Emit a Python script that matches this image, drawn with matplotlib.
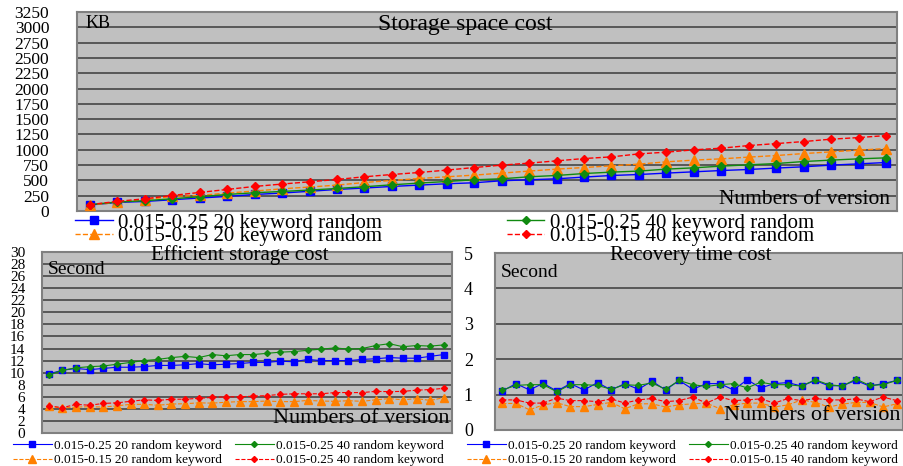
import numpy as np
import matplotlib
matplotlib.use('Agg')
import matplotlib.pyplot as plt

plt.rcParams['font.family'] = ['Liberation Serif', 'DejaVu Serif']

# Storage space cost (KB), 30 versions
storage_blue = [98, 140, 156, 184, 212, 238, 270, 293, 322, 352, 375, 401, 423, 445, 461,
                494, 510, 526, 554, 580, 596, 619, 640, 661, 678, 701, 722, 749, 770, 792]
storage_green = [105, 147, 168, 200, 233, 270, 298, 319, 342, 368, 396, 428, 456, 482, 510,
                 526, 559, 580, 612, 635, 652, 684, 705, 733, 754, 775, 808, 831, 852, 868]
storage_orange = [95, 140, 184, 238, 254, 293, 326, 363, 391, 423, 466, 499, 531, 559, 586,
                  619, 652, 684, 710, 738, 766, 803, 831, 852, 880, 906, 938, 966, 994, 1020]
storage_red = [105, 157, 200, 254, 303, 352, 401, 440, 477, 515, 559, 596, 629, 668, 710,
               749, 782, 819, 857, 884, 933, 961, 999, 1026, 1069, 1101, 1134, 1173, 1199, 1232]
storage_labels = ['0.015-0.25 20 keyword random', '0.015-0.15 20 keyword random',
                  '0.015-0.25 40 keyword random', '0.015-0.15 40 keyword random']

# Efficient storage cost (second)
eff_blue = [9.8, 10.4, 10.7, 10.5, 10.7, 10.9, 10.9, 11.0, 11.2, 11.2, 11.3, 11.5, 11.3, 11.4, 11.5,
            11.7, 11.7, 11.9, 11.8, 12.2, 12.0, 12.0, 12.0, 12.2, 12.3, 12.5, 12.4, 12.4, 12.7, 13.0]
eff_green = [9.6, 10.4, 10.8, 11.0, 11.1, 11.4, 11.7, 12.0, 12.2, 12.5, 12.7, 12.5, 13.0, 12.8, 13.0,
             13.0, 13.2, 13.4, 13.5, 13.7, 13.9, 14.1, 13.9, 14.0, 14.5, 14.8, 14.3, 14.5, 14.4, 14.6]
eff_orange = [4.4, 4.15, 4.3, 4.35, 4.3, 4.5, 4.75, 4.75, 4.6, 4.8, 4.85, 5.0, 4.95, 5.1, 5.2,
              5.2, 5.3, 5.2, 5.2, 5.4, 5.3, 5.25, 5.35, 5.25, 5.5, 5.7, 5.5, 5.7, 5.4, 5.85]
eff_red = [4.5, 4.2, 4.75, 4.6, 4.9, 5.0, 5.25, 5.5, 5.4, 5.6, 5.6, 5.75, 5.9, 6.0, 6.0,
           6.1, 6.2, 6.4, 6.5, 6.5, 6.5, 6.7, 6.7, 6.7, 6.9, 6.85, 6.9, 7.1, 7.2, 7.4]
eff_labels = ['0.015-0.25 20 random keyword', '0.015-0.15 20 random keyword',
              '0.015-0.25 40 random keyword', '0.015-0.25 40 random keyword']

# Recovery time cost (second)
rec_blue = [1.10, 1.31, 1.13, 1.32, 1.10, 1.31, 1.13, 1.34, 1.13, 1.31, 1.15, 1.38, 1.13, 1.40, 1.15,
            1.31, 1.31, 1.13, 1.42, 1.19, 1.31, 1.34, 1.24, 1.40, 1.25, 1.25, 1.40, 1.24, 1.31, 1.40]
rec_green = [1.13, 1.26, 1.28, 1.28, 1.08, 1.28, 1.28, 1.26, 1.15, 1.28, 1.26, 1.33, 1.15, 1.40, 1.28,
             1.23, 1.28, 1.31, 1.19, 1.35, 1.28, 1.28, 1.24, 1.42, 1.28, 1.24, 1.44, 1.26, 1.28, 1.40]
rec_orange = [0.75, 0.75, 0.57, 0.71, 0.77, 0.66, 0.66, 0.72, 0.78, 0.60, 0.74, 0.74, 0.65, 0.71, 0.74,
              0.76, 0.60, 0.71, 0.76, 0.76, 0.65, 0.71, 0.85, 0.78, 0.65, 0.73, 0.78, 0.78, 0.65, 0.74]
rec_red = [0.85, 0.85, 0.76, 0.76, 0.90, 0.83, 0.83, 0.80, 0.88, 0.76, 0.85, 0.89, 0.80, 0.83, 0.93,
           0.76, 0.93, 0.83, 0.85, 0.88, 0.76, 0.89, 0.83, 0.89, 0.85, 0.85, 0.88, 0.80, 0.93, 0.83]
rec_labels = ['0.015-0.25 20 random keyword', '0.015-0.15 20 random keyword',
              '0.015-0.25 40 random keyword', '0.015-0.15 40 random keyword']

colors = ['#0000ff', '#ff8000', '#108a10', '#ff0000']
styles = ['-', '--', '-', '--']
markers = ['s', '^', 'D', 'D']


def draw(ax, series, labels, ms_scale, lw):
    x = np.arange(len(series[0]))
    handles = []
    sizes = [6, 6.5, 3.8, 3.8]
    for ys, lab, c, ls, mk, s in zip(series, labels, colors, styles, markers, sizes):
        h, = ax.plot(x, ys, color=c, linestyle=ls, marker=mk, markersize=s * ms_scale,
                     linewidth=lw, label=lab, zorder=3)
        handles.append(h)
    ax.set_facecolor('#c0c0c0')
    ax.grid(axis='y', color='#3c3c3c', linewidth=1.1, zorder=1)
    ax.set_axisbelow(True)
    ax.set_xticks([])
    ax.tick_params(axis='y', length=0)
    for sp in ax.spines.values():
        sp.set_color('#808080')
        sp.set_linewidth(1.5)
    return handles


fig = plt.figure(figsize=(9.04, 4.66), dpi=100)

# top chart
ax1 = fig.add_axes([77 / 904, 1 - 211 / 466, 820 / 904, 199 / 466])
h1 = draw(ax1, [storage_blue, storage_orange, storage_green, storage_red], storage_labels, 1.0, 1.0)
ax1.set_ylim(0, 3250)
ax1.set_yticks(np.arange(0, 3251, 250))
ax1.set_xlim(-0.47, 29.4)
ax1.tick_params(axis='y', labelsize=12.5, pad=20)
ax1.text(0.473, 0.99, 'Storage space cost', transform=ax1.transAxes, ha='center', va='top', fontsize=17)
ax1.text(0.01, 0.985, 'KB', transform=ax1.transAxes, ha='left', va='top', fontsize=13)
ax1.text(0.992, 0.012, 'Numbers of version', transform=ax1.transAxes, ha='right', va='bottom', fontsize=15.5)
fig.legend(handles=h1, loc='upper left', bbox_to_anchor=(73 / 904, 1 - 211 / 466), ncol=2,
           frameon=False, fontsize=15, handlelength=1.8, labelspacing=-0.3, columnspacing=6.0,
           handletextpad=0.25, borderaxespad=0, borderpad=0.1)

# bottom left chart
ax2 = fig.add_axes([42 / 904, 1 - 433 / 466, 410 / 904, 181 / 466])
h2 = draw(ax2, [eff_blue, eff_orange, eff_green, eff_red], eff_labels, 0.8, 0.8)
ax2.set_ylim(0, 30)
ax2.set_yticks(np.arange(0, 31, 2))
ax2.set_xlim(-0.5, 29.6)
ax2.tick_params(axis='y', labelsize=11, pad=12)
ax2.text(0.483, 0.985, 'Efficient storage cost', transform=ax2.transAxes, ha='center', va='center', fontsize=15)
ax2.text(0.015, 0.95, 'Second', transform=ax2.transAxes, ha='left', va='top', fontsize=14)
ax2.text(0.995, 0.03, 'Numbers of version', transform=ax2.transAxes, ha='right', va='bottom', fontsize=16)
fig.legend(handles=h2, loc='upper left', bbox_to_anchor=(12 / 904, 1 - 438 / 466), ncol=2,
           frameon=False, fontsize=9.5, handlelength=2.9, labelspacing=0.2, columnspacing=1.0,
           handletextpad=0.2, borderaxespad=0, borderpad=0.1)

# bottom right chart
ax3 = fig.add_axes([495 / 904, 1 - 430 / 466, 408 / 904, 177 / 466])
h3 = draw(ax3, [rec_blue, rec_orange, rec_green, rec_red], rec_labels, 0.8, 0.8)
ax3.set_ylim(0, 5)
ax3.set_yticks(np.arange(0, 6, 1))
ax3.set_xlim(-0.54, 29.46)
ax3.tick_params(axis='y', labelsize=13, pad=16)
ax3.text(0.48, 0.985, 'Recovery time cost', transform=ax3.transAxes, ha='center', va='center', fontsize=15)
ax3.text(0.015, 0.94, 'Second', transform=ax3.transAxes, ha='left', va='top', fontsize=14)
ax3.text(0.995, 0.03, 'Numbers of version', transform=ax3.transAxes, ha='right', va='bottom', fontsize=16)
fig.legend(handles=h3, loc='upper left', bbox_to_anchor=(466 / 904, 1 - 438 / 466), ncol=2,
           frameon=False, fontsize=9.5, handlelength=2.9, labelspacing=0.2, columnspacing=1.0,
           handletextpad=0.2, borderaxespad=0, borderpad=0.1)

fig.savefig('out.png', dpi=100, facecolor='white')
